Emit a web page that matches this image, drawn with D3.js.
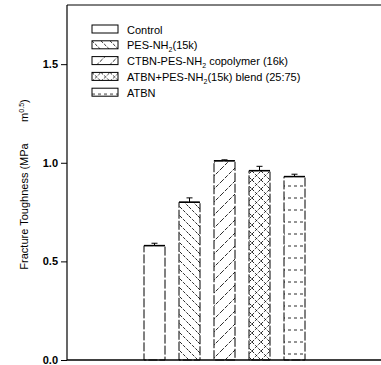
<!DOCTYPE html>
<html>
<head>
<meta charset="utf-8">
<script src="https://cdn.jsdelivr.net/npm/d3@7"></script>
<style>
  body { margin: 0; background: #fff; }
  text { font-family: "Liberation Sans Narrow", "Arial Narrow", "Liberation Sans", Arial, sans-serif; fill: #000; }
</style>
</head>
<body>
<svg id="chart"></svg>
<script>
// data
const categories = ["Control", "PES-NH2(15k)", "CTBN-PES-NH2 copolymer (16k)", "ATBN+PES-NH2(15k) blend (25:75)", "ATBN"];
const values = [0.58, 0.80, 1.01, 0.96, 0.93];
const errors = [0.012, 0.022, 0.005, 0.022, 0.012];
const patterns = ["none", "back", "fwd", "cross", "horiz"];
const yTicks = [0.0, 0.5, 1.0, 1.5];

const width = 381;
const height = 365;
const margin = { top: 5, right: 0, bottom: 5, left: 67 };

const svg = d3.select("#chart")
    .attr("width", width)
    .attr("height", height);

const x = d3.scaleBand()
    .domain(categories)
    .range([130, 319])
    .padding(0.4);

const y = d3.scaleLinear()
    .domain([0, 1.8])
    .range([height - margin.bottom, margin.top]);

// hatch patterns
const defs = svg.append("defs");

function hatch(id, size, paths, dash) {
    const p = defs.append("pattern")
        .attr("id", id)
        .attr("patternUnits", "userSpaceOnUse")
        .attr("width", size)
        .attr("height", size);
    p.append("rect").attr("width", size).attr("height", size).attr("fill", "#fff");
    paths.forEach(d => {
        p.append("path").attr("d", d)
            .attr("stroke", "#111")
            .attr("stroke-width", 0.9)
            .attr("stroke-dasharray", dash)
            .attr("fill", "none");
    });
}
hatch("back", 9, ["M0,0 L9,9", "M-9,0 L9,18", "M0,-9 L18,9"], "3,1.5");
hatch("fwd", 13, ["M0,13 L13,0", "M-13,13 L13,-13", "M0,26 L26,0"], "4,1.5");
hatch("cross", 9, ["M0,0 L9,9", "M0,9 L9,0"], "3,1.5");
hatch("horiz", 12, ["M0,6 L12,6"], "3,3");

function fillFor(p) {
    return p === "none" ? "#fff" : "url(#" + p + ")";
}

// bars
svg.selectAll(".bar")
    .data(categories)
    .enter()
    .append("rect")
    .attr("class", "bar")
    .attr("x", d => x(d))
    .attr("y", (d, i) => y(values[i]))
    .attr("width", x.bandwidth())
    .attr("height", (d, i) => y(0) - y(values[i]))
    .attr("fill", (d, i) => fillFor(patterns[i]))
    .attr("stroke", "#000")
    .attr("stroke-width", 1)
    .attr("stroke-dasharray", "9,2");

// bar tops a little heavier
svg.selectAll(".top")
    .data(categories)
    .enter()
    .append("line")
    .attr("x1", d => x(d))
    .attr("x2", d => x(d) + x.bandwidth())
    .attr("y1", (d, i) => y(values[i]))
    .attr("y2", (d, i) => y(values[i]))
    .attr("stroke", "#000")
    .attr("stroke-width", 1.5);

// error bars
const err = svg.selectAll(".err")
    .data(categories)
    .enter()
    .append("g")
    .attr("class", "err");

err.append("line")
    .attr("x1", d => x(d) + x.bandwidth() / 2)
    .attr("x2", d => x(d) + x.bandwidth() / 2)
    .attr("y1", (d, i) => y(values[i]))
    .attr("y2", (d, i) => y(values[i] + errors[i]))
    .attr("stroke", "#000");

err.append("line")
    .attr("x1", d => x(d) + x.bandwidth() / 2 - 3)
    .attr("x2", d => x(d) + x.bandwidth() / 2 + 3)
    .attr("y1", (d, i) => y(values[i] + errors[i]))
    .attr("y2", (d, i) => y(values[i] + errors[i]))
    .attr("stroke", "#000");

// axes
const yAxis = d3.axisLeft(y)
    .tickValues(yTicks)
    .tickFormat(d3.format(".1f"))
    .tickSize(6)
    .tickPadding(3);

const yg = svg.append("g")
    .attr("transform", "translate(" + margin.left + ",0)")
    .call(yAxis);
yg.select(".domain").remove();
yg.selectAll("line").attr("stroke", "#000");
yg.selectAll("text")
    .style("font-size", "11px")
    .style("font-weight", "bold")
    .style("font-family", "'Liberation Sans', Arial, sans-serif");

// frame: left, bottom, top
svg.append("line")
    .attr("x1", margin.left).attr("x2", margin.left)
    .attr("y1", y(1.8)).attr("y2", y(0))
    .attr("stroke", "#000").attr("stroke-width", 1.2);
svg.append("line")
    .attr("x1", margin.left).attr("x2", width)
    .attr("y1", y(0)).attr("y2", y(0))
    .attr("stroke", "#000").attr("stroke-width", 1.6);
svg.append("line")
    .attr("x1", margin.left).attr("x2", width)
    .attr("y1", y(1.8)).attr("y2", y(1.8))
    .attr("stroke", "#000").attr("stroke-width", 1);

// y label
const yl = svg.append("text")
    .attr("transform", "rotate(-90)")
    .attr("x", -(y(0.89)))
    .attr("y", 28)
    .style("text-anchor", "middle")
    .style("font-size", "11px");
yl.append("tspan").text("Fracture Toughness (MPa\u00A0\u00A0\u00A0\u00A0\u00A0\u00A0\u00A0m");
yl.append("tspan").attr("dy", -4).style("font-size", "7px").text("0.5");
yl.append("tspan").attr("dy", 4).text(")");

// legend
const legendLabels = [
    ["Control"],
    ["PES-NH", "2", "(15k)"],
    ["CTBN-PES-NH", "2", " copolymer (16k)"],
    ["ATBN+PES-NH", "2", "(15k) blend (25:75)"],
    ["ATBN"]
];

const legend = svg.selectAll(".legend")
    .data(categories)
    .enter()
    .append("g")
    .attr("class", "legend")
    .attr("transform", (d, i) => "translate(92," + (25 + i * 15.8) + ")");

legend.append("rect")
    .attr("width", 26)
    .attr("height", 8)
    .attr("fill", (d, i) => fillFor(patterns[i]))
    .attr("stroke", "#000")
    .attr("stroke-width", 1);

const lt = legend.append("text")
    .attr("x", 35)
    .attr("y", 8.5)
    .style("font-size", "11px");

lt.each(function(d, i) {
    const t = d3.select(this);
    const parts = legendLabels[i];
    t.append("tspan").text(parts[0]);
    if (parts.length > 1) {
        t.append("tspan").attr("dy", 3).style("font-size", "7px").text(parts[1]);
        t.append("tspan").attr("dy", -3).text(parts[2]);
    }
});
</script>
</body>
</html>
